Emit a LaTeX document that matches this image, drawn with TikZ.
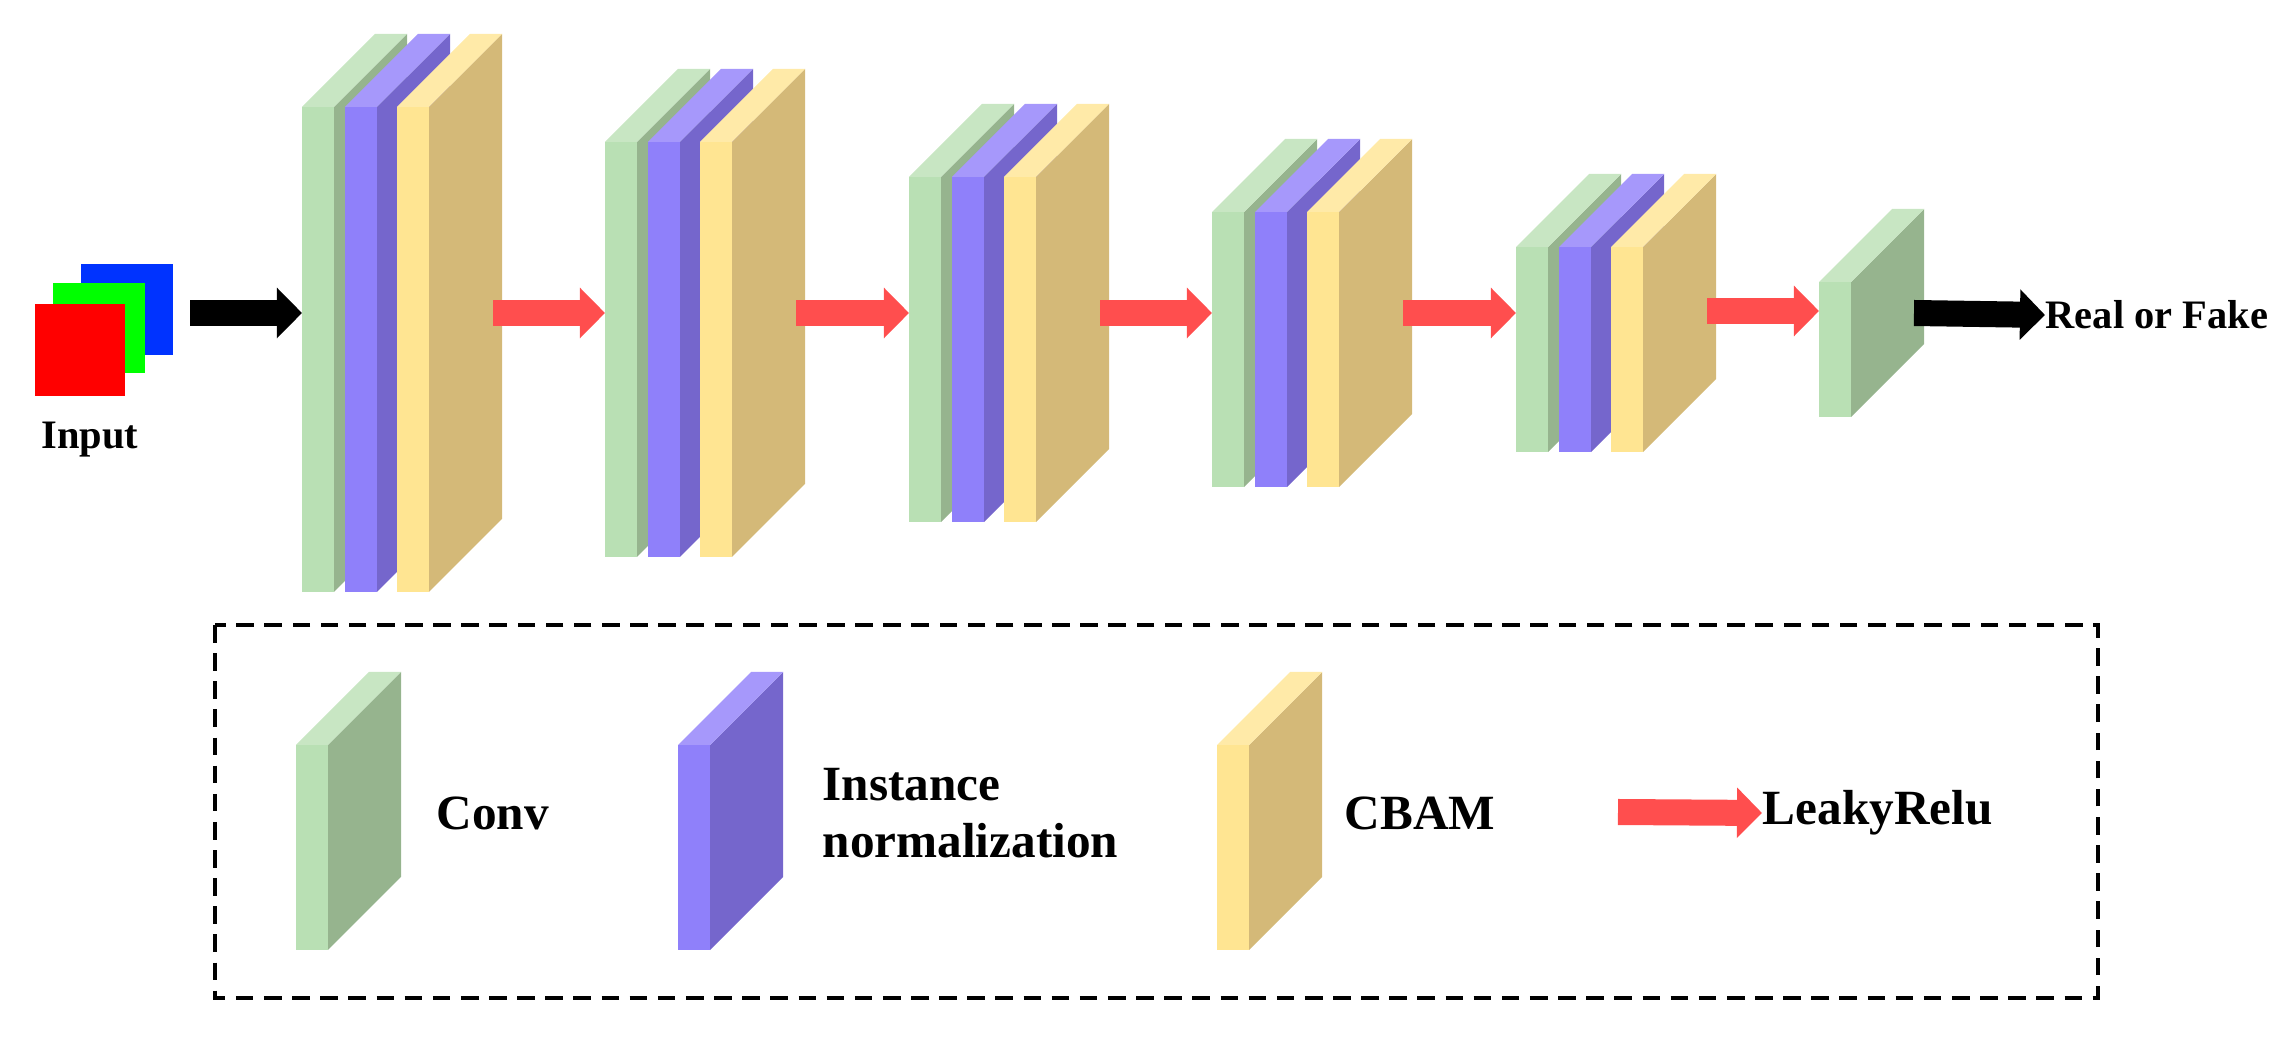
\documentclass[tikz,border=0pt]{standalone}
\usepackage{fontspec}
\setmainfont{Liberation Serif}
\usetikzlibrary{arrows.meta}

\definecolor{convF}{RGB}{185,224,180}
\definecolor{convS}{RGB}{150,180,142}
\definecolor{convT}{RGB}{200,230,195}
\definecolor{normF}{RGB}{143,128,250}
\definecolor{normS}{RGB}{117,102,204}
\definecolor{normT}{RGB}{166,152,251}
\definecolor{cbamF}{RGB}{255,229,146}
\definecolor{cbamS}{RGB}{212,185,120}
\definecolor{cbamT}{RGB}{255,234,168}
\definecolor{reluC}{RGB}{255,78,78}

% one slab: x, top, bottom, colour prefix
\newcommand{\layer}[4]{
\fill[#4F] (#1,#2) rectangle (#1+32,#3);
\fill[#4S] (#1+32,#2) -- (#1+105,#2-73) -- (#1+105,#3-73) -- (#1+32,#3) -- cycle;
\fill[#4T] (#1,#2) -- (#1+73,#2-73) -- (#1+105,#2-73) -- (#1+32,#2) -- cycle;
}
% one block: conv, instance norm, cbam
\newcommand{\stage}[3]{
\layer{#1}{#2}{#3}{conv}
\layer{#1+43}{#2}{#3}{norm}
\layer{#1+95}{#2}{#3}{cbam}
}

\tikzset{
  flow/.style={line width=0.26cm,-{Triangle[width=0.49cm,length=0.25cm]}},
  relu/.style={flow,reluC},
  lbl/.style={font=\bfseries\fontsize{11.5}{13}\selectfont,anchor=west,inner sep=0pt},
  key/.style={font=\bfseries\fontsize{14}{16}\selectfont,anchor=west,inner sep=0pt,align=left}
}

\begin{document}
\begin{tikzpicture}[x=0.01cm,y=-0.01cm]
\useasboundingbox (0,0) rectangle (2277,1043);

% input image
\fill[blue!80!cyan] (81,264) rectangle (173,355);
\fill[green] (53,283) rectangle (145,373);
\fill[red] (35,304) rectangle (125,396);
\node[lbl,anchor=center] (input) at (90,440) {Input};

% encoder blocks
\stage{302}{107}{592}
\stage{605}{142}{557}
\stage{909}{177}{522}
\stage{1212}{212}{487}
\stage{1516}{247}{452}
\layer{1819}{282}{417}{conv}

\coordinate (in) at (190,313);
\coordinate (b1) at (302,313);
\coordinate (o1) at (493,313);
\coordinate (b2) at (605,313);
\coordinate (o2) at (796,313);
\coordinate (b3) at (909,313);
\coordinate (o3) at (1100,313);
\coordinate (b4) at (1212,313);
\coordinate (o4) at (1403,313);
\coordinate (b5) at (1516,313);
\coordinate (o5) at (1707,311);
\coordinate (b6) at (1819,311);
\coordinate (o6) at (1914,313);
\node[lbl] (out) at (2045,315) {Real or Fake};

\draw[flow] (in) -- (b1);
\draw[relu] (o1) -- (b2);
\draw[relu] (o2) -- (b3);
\draw[relu] (o3) -- (b4);
\draw[relu] (o4) -- (b5);
\draw[relu] (o5) -- (b6);
\draw[flow] (o6) -- (out.west);

% legend
\draw[dashed,line width=1.4pt,dash pattern=on 5pt off 3pt] (215,625) rectangle (2098,998);
\layer{296}{745}{950}{conv}
\layer{678}{745}{950}{norm}
\layer{1217}{745}{950}{cbam}
\node[key] (kconv) at (436,813) {Conv};
\node[key] (knorm) at (822,813) {Instance\\normalization};
\node[key] (kcbam) at (1344,813) {CBAM};
\coordinate (ks) at (1618,812);
\node[key] (krelu) at (1762,813) {LeakyRelu};
\draw[relu] (ks) -- (krelu.west);
\end{tikzpicture}
\end{document}
